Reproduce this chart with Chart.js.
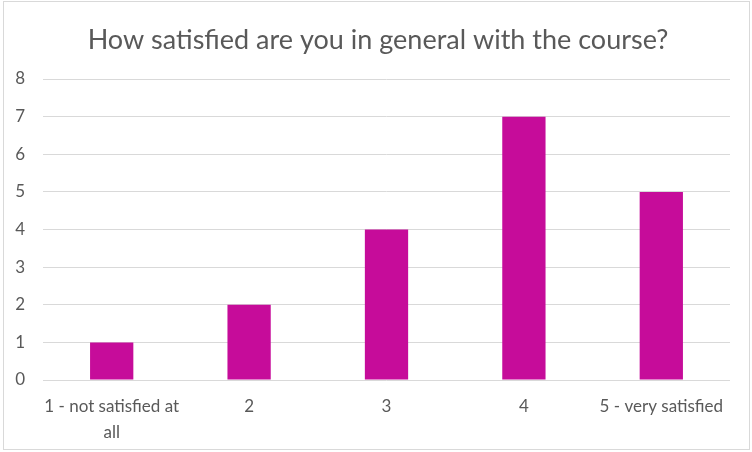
<!DOCTYPE html>
<html><head><meta charset="utf-8">
<script src="https://cdn.jsdelivr.net/npm/chart.js@4"></script>
<style>html,body{margin:0;padding:0;background:#fff;}#wrap{position:absolute;left:0;top:0;width:752px;height:452px;}</style>
</head><body><div id="wrap"><canvas id="c" width="752" height="452"></canvas></div>
<script>
const categories = [["1 - not satisfied at", "all"], "2", "3", "4", "5 - very satisfied"];
const values = [1, 2, 4, 7, 5];
const yTicks = [0, 1, 2, 3, 4, 5, 6, 7, 8];
const titleText = "How satisfied are you in general with the course?";

const framePlugin = {
  id: 'frame',
  beforeDraw(chart) {
    const ctx = chart.ctx;
    ctx.save();
    ctx.fillStyle = '#fff';
    ctx.fillRect(0, 0, chart.width, chart.height);
    ctx.strokeStyle = '#d9d9d9';
    ctx.lineWidth = 1;
    ctx.strokeRect(3.5, 1.5, 746, 448);
    ctx.restore();
  },
  afterDraw(chart) {
    const ctx = chart.ctx;
    ctx.save();
    ctx.fillStyle = '#595959';
    ctx.font = '27px Lato';
    ctx.textAlign = 'center';
    ctx.textBaseline = 'middle';
    ctx.fillText(titleText, 378, 40);
    ctx.restore();
  }
};

new Chart(document.getElementById('c'), {
  type: 'bar',
  data: {
    labels: categories,
    datasets: [{ data: values, backgroundColor: '#C60C9A', borderWidth: 0, barPercentage: 1, categoryPercentage: 0.315 }]
  },
  plugins: [framePlugin],
  options: {
    responsive: false,
    animation: false,
    devicePixelRatio: 1,
    layout: { padding: { left: 0, right: 22, top: 79, bottom: 0 } },
    plugins: {
      legend: { display: false },
      tooltip: { enabled: false },
      title: { display: false }
    },
    scales: {
      x: {
        grid: { display: false, drawTicks: false },
        border: { display: false },
        ticks: { color: '#595959', font: { family: 'Lato', size: 17, lineHeight: 1.5 }, padding: 14, maxRotation: 0, autoSkip: false },
        afterFit(s) { s.height = 72; }
      },
      y: {
        min: 0, max: 8,
        afterBuildTicks(s) { s.ticks = yTicks.map(v => ({ value: v })); },
        grid: { color: '#d9d9d9', lineWidth: 1, drawTicks: false },
        border: { display: false },
        ticks: { color: '#595959', font: { family: 'Lato', size: 17 }, padding: 18 },
        afterFit(s) { s.width = 43; }
      }
    }
  }
});
</script></body></html>
